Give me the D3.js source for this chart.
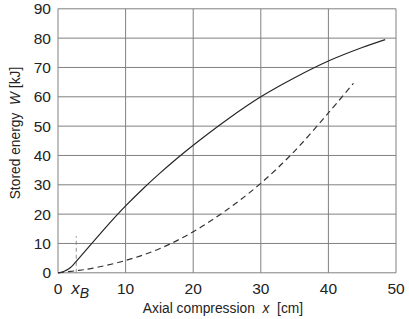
<!DOCTYPE html>
<html lang="en">
<head>
<meta charset="UTF-8">
<title>Stored energy vs axial compression</title>
<script src="https://d3js.org/d3.v7.min.js"></script>
<style>
    body { margin: 0; background: #fff; }
    svg { display: block; font-family: 'Liberation Sans', Arial, sans-serif; }
    svg text { white-space: pre; }
    .grid line { stroke: #808080; stroke-width: 1; }
    .tick-label { font-size: 15.5px; fill: #222; }
    .title { font-size: 13.8px; fill: #222; }
</style>
</head>
<body>
<svg width="409" height="319"></svg>
<script>
    // data
    const xTicks = [0, 10, 20, 30, 40, 50];
    const yTicks = [0, 10, 20, 30, 40, 50, 60, 70, 80, 90];
    const xB = 2.7;
    const xBTop = 12.5;

    // solid curve
    const solidX = [0, 0.5, 1, 1.5, 2, 2.7, 5, 7.5, 10, 12.5, 15, 17.5, 20, 25, 30, 35, 40, 45, 48.4];
    const solidW = [0, 0.2, 0.6, 1.2, 2.1, 3.9, 10, 16.6, 22.8, 28.5, 33.8, 38.8, 43.5, 52.2, 60, 66.5, 72.2, 76.8, 79.5];

    // dashed curve
    const dashX = [0, 2.7, 5, 10, 15, 20, 25, 30, 35, 40, 43.7];
    const dashW = [0, 0.7, 1.5, 4.2, 8.2, 14, 21.5, 30.5, 41.5, 54.5, 64.6];

    const svg = d3.select("svg");
    const x = d3.scaleLinear().domain([0, 50]).range([58, 396]);
    const y = d3.scaleLinear().domain([0, 90]).range([272.8, 8.8]);

    // grid
    const grid = svg.append("g").attr("class", "grid");
    grid.selectAll(".vx").data(xTicks).enter().append("line")
        .attr("x1", d => x(d)).attr("x2", d => x(d))
        .attr("y1", y(0)).attr("y2", y(90));
    grid.selectAll(".hy").data(yTicks).enter().append("line")
        .attr("x1", x(0)).attr("x2", x(50))
        .attr("y1", d => y(d)).attr("y2", d => y(d));

    // tick labels
    svg.append("g").selectAll("text").data(yTicks).enter().append("text")
        .attr("class", "tick-label")
        .attr("x", 51).attr("y", d => y(d) + 5.5)
        .attr("text-anchor", "end")
        .text(d => d);
    svg.append("g").selectAll("text").data(xTicks).enter().append("text")
        .attr("class", "tick-label")
        .attr("x", d => x(d)).attr("y", 294)
        .attr("text-anchor", "middle")
        .text(d => d);

    // x_B marker
    svg.append("line")
        .attr("x1", x(xB)).attr("x2", x(xB))
        .attr("y1", y(0)).attr("y2", y(xBTop))
        .attr("stroke", "#777").attr("stroke-width", 0.8)
        .attr("stroke-dasharray", "4,3");
    const xbLabel = svg.append("text").attr("class", "tick-label")
        .attr("x", x(xB) - 5).attr("y", 294);
    xbLabel.append("tspan").attr("font-style", "italic").attr("font-size", "17px").text("x");
    xbLabel.append("tspan").attr("font-style", "italic").attr("font-size", "14px").attr("dy", 4).text("B");

    // curves
    const line = d3.line().x(d => x(d[0])).y(d => y(d[1])).curve(d3.curveCatmullRom.alpha(0.5));
    svg.append("path")
        .attr("d", line(d3.zip(solidX, solidW)))
        .attr("fill", "none").attr("stroke", "#262626").attr("stroke-width", 1.2);
    svg.append("path")
        .attr("d", line(d3.zip(dashX, dashW)))
        .attr("fill", "none").attr("stroke", "#333").attr("stroke-width", 1.2)
        .attr("stroke-dasharray", "6,4");

    // axis titles
    const xt = svg.append("text").attr("class", "title")
        .attr("x", 223).attr("y", 313).attr("text-anchor", "middle");
    xt.append("tspan").text("Axial compression  ");
    xt.append("tspan").attr("font-style", "italic").text("x");
    xt.append("tspan").text("  [cm]");

    const yt = svg.append("text").attr("class", "title")
        .attr("transform", "translate(20,133) rotate(-90)")
        .attr("font-size", "13px")
        .attr("text-anchor", "middle");
    yt.append("tspan").text("Stored energy  ");
    yt.append("tspan").attr("font-style", "italic").text("W");
    yt.append("tspan").text(" [kJ]");
</script>
</body>
</html>
